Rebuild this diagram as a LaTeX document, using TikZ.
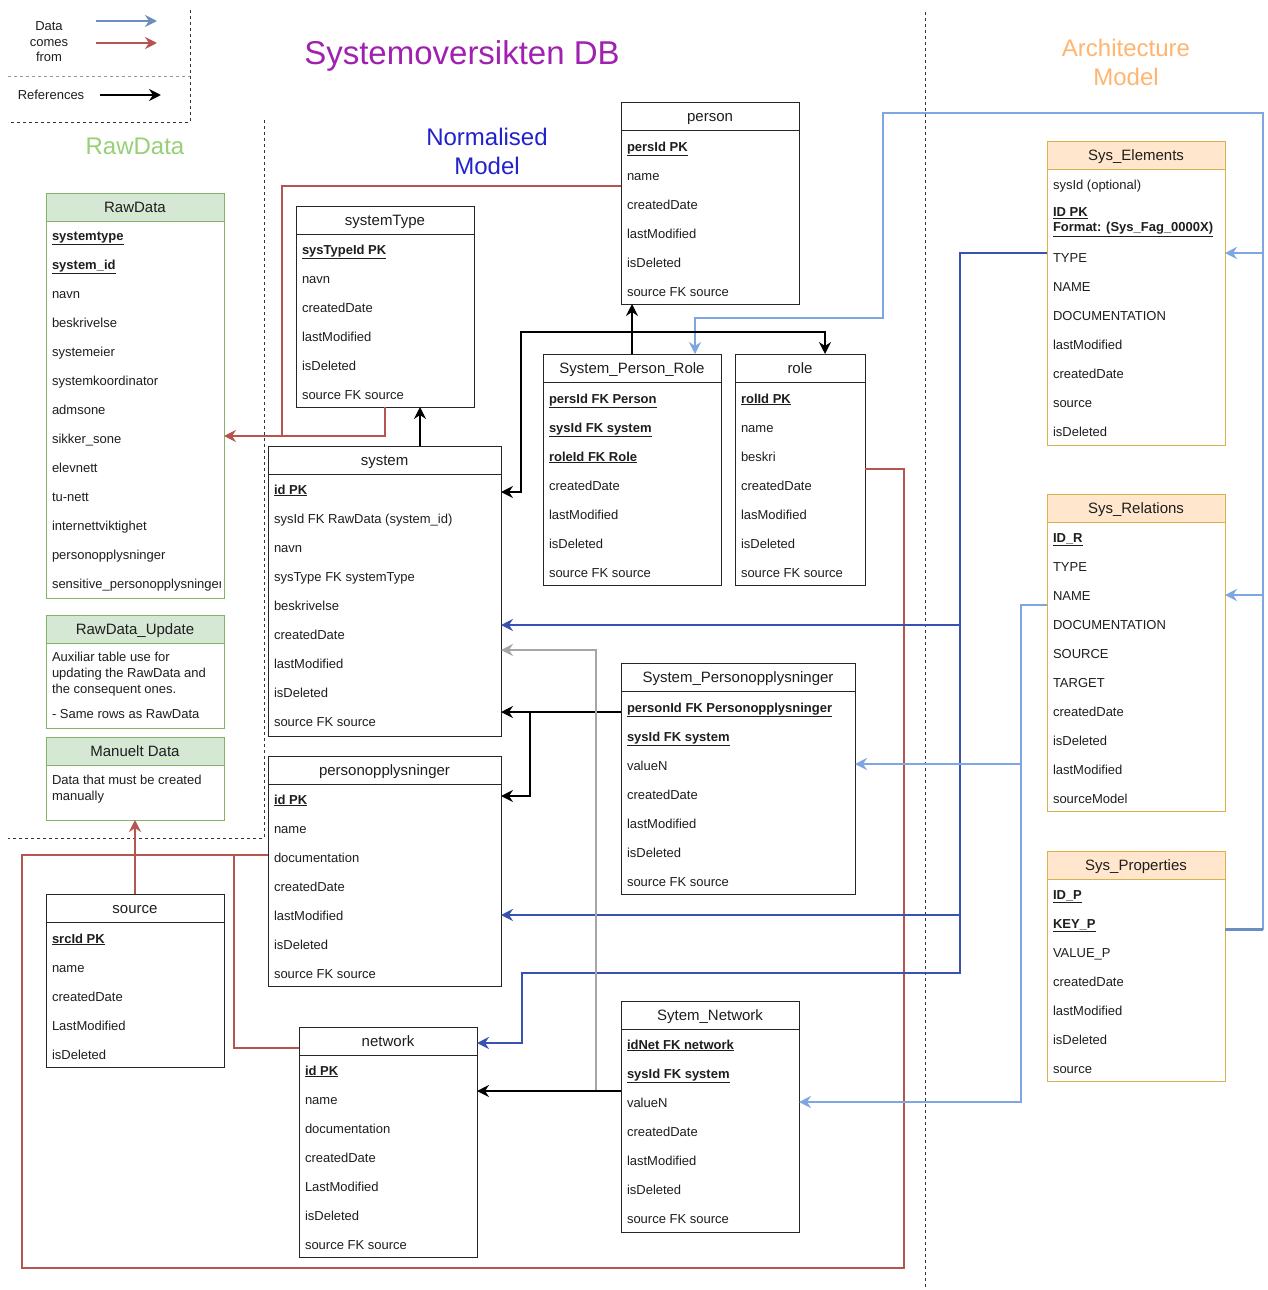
\documentclass[tikz,border=0pt]{standalone}
\usepackage{fontspec}
\setmainfont{Liberation Sans}
\usetikzlibrary{arrows.meta}

\definecolor{redline}{HTML}{B85450}
\definecolor{lightblue}{HTML}{7EA6E0}
\definecolor{darkblue}{HTML}{3752B0}
\definecolor{legendblue}{HTML}{6C8EBF}
\definecolor{greyline}{HTML}{A6A6A6}
\definecolor{greenfill}{HTML}{D5E8D4}
\definecolor{greenline}{HTML}{82B366}
\definecolor{orangefill}{HTML}{FFE6CC}
\definecolor{orangeline}{HTML}{D9B24A}
\definecolor{txt}{HTML}{1E1E1E}
\definecolor{titlepurple}{HTML}{A020B0}
\definecolor{titleblue}{HTML}{2222CC}
\definecolor{titleorange}{HTML}{FFB570}
\definecolor{titlegreen}{HTML}{97D077}

% bold underlined key column
\newcommand{\pk}[1]{\underline{\textbf{#1}}}

% table: name, header style, body style, x, y top, width, body height, title
\newcommand{\ertable}[8]{%
  \node[#2, minimum width=#6pt, anchor=north west] (#1) at (#4,#5) {#8};
  \node[#3, minimum width=#6pt, minimum height=#7pt, anchor=north west] (#1-body) at (#1.south west) {};
}
% rows: name, x, y of first row centre, first index, list of row texts
\newcommand{\errows}[5]{%
  \foreach \rt [count=\ri from #4] in {#5}{%
    \node[rowtxt] (#1-\ri) at (#2+6, #3+29*\ri-29*#4+5) {\rt};
  }%
}

\tikzset{
  x=1pt, y=-1pt,
  every node/.style={inner sep=0pt, outer sep=0pt, text=txt},
  hdplain/.style={draw=black!85, line width=1pt, minimum height=28pt,
    font=\fontsize{15}{18}\selectfont, text height=13pt, text depth=2pt},
  bdplain/.style={draw=black!85, line width=1pt},
  hdgreen/.style={hdplain, draw=greenline, fill=greenfill},
  bdgreen/.style={bdplain, draw=greenline},
  hdorange/.style={hdplain, draw=orangeline, fill=orangefill},
  bdorange/.style={bdplain, draw=orangeline},
  rowtxt/.style={anchor=base west, font=\fontsize{13}{15}\selectfont},
  notetxt/.style={anchor=north west, align=left, font=\fontsize{13}{16}\selectfont},
  tip/.style={-{Stealth[length=12pt,width=12pt,inset=4pt]}},
  ref/.style={line width=2pt, draw=black, tip},
  refgrey/.style={line width=2pt, draw=greyline, tip},
  redflow/.style={line width=2pt, draw=redline, tip},
  redpath/.style={line width=2pt, draw=redline},
  darkflow/.style={line width=2pt, draw=darkblue, tip},
  lightflow/.style={line width=2pt, draw=lightblue, tip},
  zone/.style={line width=1pt, draw=black!80, dash pattern=on 3pt off 3pt},
}

\begin{document}
\begin{tikzpicture}
\fill[white] (0,0) rectangle (1268,1290);
\useasboundingbox (0,0) rectangle (1268,1290);

% ---------- zones ----------
\draw[zone] (190,10) -- (190,122) -- (8,122);
\draw[zone, draw=black!40] (8,76) -- (190,76);
\draw[zone] (264,120) -- (264,838) -- (8,838);
\draw[zone] (925,12) -- (925,1290);

% ---------- legend ----------
\node[align=center, font=\fontsize{13}{15.5}\selectfont] (lgdata) at (49,42) {Data\\comes\\from};
\node[font=\fontsize{13}{15}\selectfont] (lgref) at (51,95) {References};
\coordinate (lb1) at (96,21);  \coordinate (lb2) at (157,21);
\coordinate (lr1) at (96,43);  \coordinate (lr2) at (157,43);
\coordinate (lk1) at (100,95); \coordinate (lk2) at (161,95);
\draw[line width=2pt, draw=legendblue, tip] (lb1) -- (lb2);
\draw[redflow] (lr1) -- (lr2);
\draw[ref] (lk1) -- (lk2);

% ---------- titles ----------
\node[anchor=base, text=titlepurple, font=\fontsize{33}{36}\selectfont] (ttl) at (462,64) {Systemoversikten DB};
\node[anchor=base, text=titlegreen, font=\fontsize{24}{29}\selectfont] (ttlraw) at (135,154) {RawData};
\node[align=center, text=titleblue, font=\fontsize{24}{29}\selectfont] (ttlnorm) at (487,151) {Normalised\\Model};
\node[align=center, text=titleorange, font=\fontsize{24}{29}\selectfont] (ttlarch) at (1126,62) {Architecture\\Model};

% ---------- raw data zone ----------
\ertable{raw}{hdgreen}{bdgreen}{46}{193}{178}{377}{RawData}
\errows{raw}{46}{235}{1}{\pk{systemtype},\pk{system\_id},navn,beskrivelse,systemeier,systemkoordinator,admsone,sikker\_sone,elevnett,tu-nett,internettviktighet,personopplysninger}
\begin{scope}
  \clip (46,569) rectangle (220,597);
  \node[rowtxt] (raw-13) at (52,588) {sensitive\_personopplysninger};
\end{scope}

\ertable{rawu}{hdgreen}{bdgreen}{46}{615}{178}{85}{RawData\_Update}
\node[notetxt] (rawu-note) at (52,652.5) {Auxiliar table use for\\updating the RawData and\\the consequent ones.\\[9pt]- Same rows as RawData};

\ertable{man}{hdgreen}{bdgreen}{46}{737}{178}{55}{Manuelt Data}
\node[notetxt] (man-note) at (52,775) {Data that must be created\\manually};

% ---------- normalised model ----------
\ertable{systype}{hdplain}{bdplain}{296}{206}{178}{173}{systemType}
\errows{systype}{296}{249}{1}{\pk{sysTypeId PK},navn,createdDate,lastModified,isDeleted,source FK source}

\ertable{sys}{hdplain}{bdplain}{268}{446}{233}{262}{system}
\errows{sys}{268}{489}{1}{\pk{id PK},sysId FK RawData (system\_id),navn,sysType FK systemType,beskrivelse,createdDate,lastModified,isDeleted,source FK source}

\ertable{person}{hdplain}{bdplain}{621}{102}{178}{174}{person}
\errows{person}{621}{146}{1}{\pk{persId PK},name,createdDate,lastModified,isDeleted,source FK source}

\ertable{spr}{hdplain}{bdplain}{543}{354}{178}{203}{System\_Person\_Role}
\errows{spr}{543}{398}{1}{\pk{persId FK Person},\pk{sysId FK system},\pk{roleId FK Role},createdDate,lastModified,isDeleted,source FK source}

\ertable{role}{hdplain}{bdplain}{735}{354}{130}{203}{role}
\errows{role}{735}{398}{1}{\pk{rolId PK},name,beskri,createdDate,lasModified,isDeleted,source FK source}

\ertable{spo}{hdplain}{bdplain}{621}{663}{234}{203}{System\_Personopplysninger}
\errows{spo}{621}{707}{1}{\pk{personId FK Personopplysninger},\pk{sysId FK system},valueN,createdDate,lastModified,isDeleted,source FK source}

\ertable{po}{hdplain}{bdplain}{268}{756}{233}{202}{personopplysninger}
\errows{po}{268}{799}{1}{\pk{id PK},name,documentation,createdDate,lastModified,isDeleted,source FK source}

\ertable{src}{hdplain}{bdplain}{46}{894}{178}{145}{source}
\errows{src}{46}{938}{1}{\pk{srcId PK},name,createdDate,LastModified,isDeleted}

\ertable{net}{hdplain}{bdplain}{299}{1027}{178}{202}{network}
\errows{net}{299}{1070}{1}{\pk{id PK},name,documentation,createdDate,LastModified,isDeleted,source FK source}

\ertable{sn}{hdplain}{bdplain}{621}{1001}{178}{203}{Sytem\_Network}
\errows{sn}{621}{1044}{1}{\pk{idNet FK network},\pk{sysId FK system},valueN,createdDate,lastModified,isDeleted,source FK source}

% ---------- architecture model ----------
\ertable{se}{hdorange}{bdorange}{1047}{141}{178}{276}{Sys\_Elements}
\node[rowtxt] (se-1) at (1053,189) {sysId (optional)};
\node[rowtxt, anchor=west, align=left] (se-2) at (1053,222) {\pk{ID PK}\\\pk{Format: (Sys\_Fag\_0000X)}};
\errows{se}{1047}{257}{3}{TYPE,NAME,DOCUMENTATION,lastModified,createdDate,source,isDeleted}

\ertable{sr}{hdorange}{bdorange}{1047}{494}{178}{289}{Sys\_Relations}
\errows{sr}{1047}{537}{1}{\pk{ID\_R},TYPE,NAME,DOCUMENTATION,SOURCE,TARGET,createdDate,isDeleted,lastModified,sourceModel}

\ertable{sp}{hdorange}{bdorange}{1047}{851}{178}{202}{Sys\_Properties}
\errows{sp}{1047}{894}{1}{\pk{ID\_P},\pk{KEY\_P},VALUE\_P,createdDate,lastModified,isDeleted,source}

% ---------- red: data comes from RawData ----------
\coordinate (rp) at (0,186);
\coordinate (rj) at (282,436);
\coordinate (rst) at (385,436);
\draw[redflow] (person-body.west |- rp) -| (rj) -- (raw-body.east |- rj);
\draw[redpath] (systype-body.south -| rst) -- (rst) -- (rj);

% ---------- red: data comes from manual data ----------
\coordinate (mr) at (904,469);
\coordinate (mb) at (904,1268);
\coordinate (ml) at (22,1268);
\coordinate (mt) at (22,855);
\coordinate (mn) at (234,1048);
\draw[redpath] (role-body.east |- mr) -- (mr) -- (mb) -- (ml) -- (mt) -- (po-body.west |- mt);
\draw[redpath] (net.west |- mn) -- (mn) -- (mn |- mt);
\draw[redflow] (src.north) -- (man-body.south);

% ---------- dark blue: from Sys_Elements ----------
\coordinate (dt) at (960,253);
\coordinate (db) at (960,973);
\coordinate (dl) at (522,973);
\coordinate (dn) at (522,1043);
\coordinate (ds) at (960,625);
\coordinate (dp) at (960,915);
\draw[darkflow] (se-body.west |- dt) -- (dt) -- (db) -- (dl) -- (dn) -- (net.east |- dn);
\draw[darkflow] (ds) -- (sys-body.east |- ds);
\draw[darkflow] (dp) -- (po-body.east |- dp);

% ---------- light blue: from Sys_Relations ----------
\coordinate (lt) at (1021,605);
\coordinate (lbt) at (1021,1102);
\coordinate (lm) at (1021,764);
\draw[lightflow] (sr-body.west |- lt) -- (lt) -- (lbt) -- (sn-body.east |- lbt);
\draw[lightflow] (lm) -- (spo-body.east |- lm);

% ---------- light blue: from Sys_Properties ----------
\coordinate (pr) at (1263,929);
\coordinate (pt) at (1263,113);
\coordinate (pa) at (883,113);
\coordinate (pb) at (883,318);
\coordinate (pc) at (695,318);
\coordinate (pe) at (1263,253);
\coordinate (pf) at (1263,595);
\draw[lightflow] (sp-body.east |- pr) -- (pr) -- (pt) -- (pa) -- (pb) -- (pc) -- (spr.north -| pc);
\draw[lightflow] (pe) -- (se-body.east |- pe);
\draw[lightflow] (pf) -- (sr-body.east |- pf);
\draw[line width=3pt, draw=legendblue] (sp-body.east |- pr) -- (pr);

% ---------- references ----------
\coordinate (bs) at (420,430);
\draw[ref] (sys.north -| bs) -- (systype-body.south -| bs);

\coordinate (bp) at (632,332);
\coordinate (br) at (825,332);
\coordinate (bl) at (521,332);
\coordinate (bl2) at (521,492);
\draw[ref] (spr.north -| bp) -- (person-body.south -| bp);
\draw[ref] (bp) -- (br) -- (role.north -| br);
\draw[ref] (bp) -- (bl) -- (bl2) -- (sys-body.east |- bl2);

\coordinate (bo) at (530,712);
\coordinate (bo2) at (530,796);
\draw[ref] (spo-body.west |- bo) -- (sys-body.east |- bo);
\draw[ref] (bo) -- (bo2) -- (po-body.east |- bo2);

\coordinate (bn) at (596,1091);
\coordinate (gt) at (596,650);
\draw[refgrey] (bn) -- (gt) -- (sys-body.east |- gt);
\draw[ref] (sn-body.west |- bn) -- (net-body.east |- bn);

\end{tikzpicture}
\end{document}
